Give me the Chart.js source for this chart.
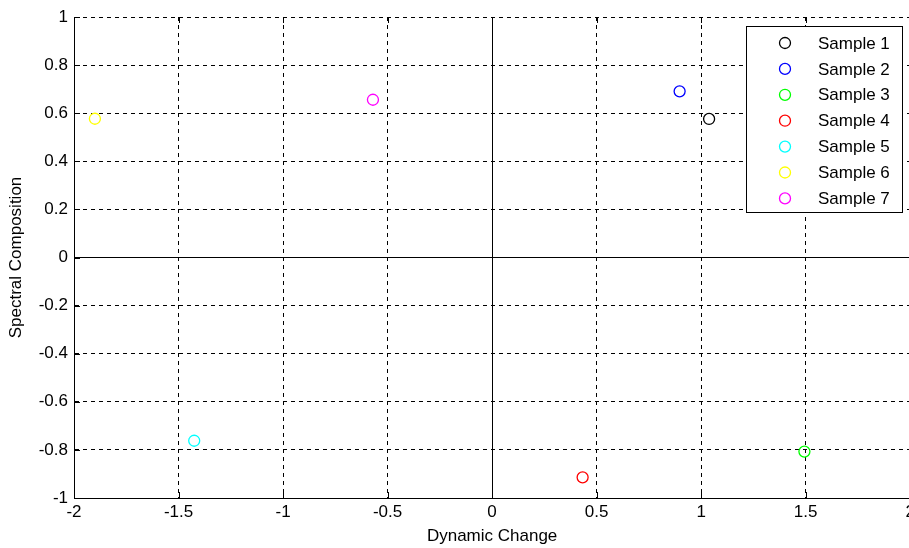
<!DOCTYPE html>
<html>
<head>
<meta charset="utf-8">
<script src="https://cdn.jsdelivr.net/npm/chart.js@4"></script>
<style>
    body { margin: 0; overflow: hidden; background: #fff; }
    #graficoArea { width: 917px; height: 548px; }
</style>
</head>
<body>
<div id="graficoArea"><canvas id="grafico" width="917" height="548"></canvas></div>
<script>
// Dados das amostras
const rotulos = ["Sample 1", "Sample 2", "Sample 3", "Sample 4", "Sample 5", "Sample 6", "Sample 7"]
const valoresX = [1.038, 0.897, 1.494, 0.433, -1.425, -1.90, -0.57]
const valoresY = [0.576, 0.691, -0.807, -0.914, -0.762, 0.577, 0.656]
const cores = ["#000000", "#0000ff", "#00ff00", "#ff0000", "#00ffff", "#ffff00", "#ff00ff"]

// Ticks dos eixos
const ticksX = [-2, -1.5, -1, -0.5, 0, 0.5, 1, 1.5, 2]
const ticksY = [-1, -0.8, -0.6, -0.4, -0.2, 0, 0.2, 0.4, 0.6, 0.8, 1]

const fonte = "'Liberation Sans', Arial, sans-serif"
Chart.defaults.font.family = fonte
Chart.defaults.font.size = 17
Chart.defaults.color = "#000"

// Monta um dataset por amostra
let datasets = []
for (let i = 0; i < rotulos.length; i++) {
    datasets.push({
        label: rotulos[i],
        data: [{ x: valoresX[i], y: valoresY[i] }],
        borderColor: cores[i],
        backgroundColor: "rgba(0,0,0,0)",
        pointRadius: 5.5,
        pointBorderWidth: 1.3,
        pointStyle: "circle"
    })
}

// Linhas do zero, marcas internas e legenda dentro da área do gráfico
const extras = {
    id: "extras",
    beforeDatasetsDraw(chart) {
        const ctx = chart.ctx
        const area = chart.chartArea
        const sx = chart.scales.x
        const sy = chart.scales.y
        ctx.save()
        ctx.strokeStyle = "#000"
        ctx.lineWidth = 1
        ctx.beginPath()
        // marcas internas
        ticksX.forEach(v => {
            let px = Math.round(sx.getPixelForValue(v)) + 0.5
            ctx.moveTo(px, area.bottom)
            ctx.lineTo(px, area.bottom - 6)
            ctx.moveTo(px, area.top)
            ctx.lineTo(px, area.top + 6)
        })
        ticksY.forEach(v => {
            let py = Math.round(sy.getPixelForValue(v)) + 0.5
            ctx.moveTo(area.left, py)
            ctx.lineTo(area.left + 6, py)
        })
        ctx.stroke()
        ctx.restore()
    },
    afterDraw(chart) {
        const ctx = chart.ctx
        const caixa = { x: 746.5, y: 26.5, w: 156, h: 186 }
        ctx.save()
        ctx.fillStyle = "#fff"
        ctx.fillRect(caixa.x, caixa.y, caixa.w, caixa.h)
        ctx.strokeStyle = "#000"
        ctx.lineWidth = 1
        ctx.strokeRect(caixa.x, caixa.y, caixa.w, caixa.h)
        ctx.font = "17px " + fonte
        ctx.textBaseline = "middle"
        ctx.textAlign = "left"
        chart.data.datasets.forEach((ds, i) => {
            let y = 43 + i * 25.9
            ctx.beginPath()
            ctx.arc(785, y, 5.5, 0, Math.PI * 2)
            ctx.lineWidth = 1.3
            ctx.strokeStyle = ds.borderColor
            ctx.stroke()
            ctx.fillStyle = "#000"
            ctx.fillText(ds.label, 818, y + 1)
        })
        ctx.restore()
    }
}

const config = {
    type: "scatter",
    data: { datasets: datasets },
    options: {
        responsive: false,
        animation: false,
        layout: { padding: { top: 17, left: 0, right: 0, bottom: 0 } },
        plugins: {
            legend: { display: false },
            tooltip: { enabled: false }
        },
        scales: {
            x: {
                type: "linear",
                min: -2,
                max: 2,
                afterBuildTicks: scale => { scale.ticks = ticksX.map(v => ({ value: v })) },
                afterFit: scale => {
                    scale.height = 50
                    scale.paddingRight = 0
                    scale.paddingLeft = 0
                },
                ticks: {
                    padding: 4,
                    maxRotation: 0,
                    callback: v => String(v)
                },
                grid: {
                    color: "#000",
                    lineWidth: 1,
                    drawTicks: false
                },
                border: {
                    color: "#000",
                    width: 1,
                    dash: ctx => (ctx.tick && ctx.tick.value === 0) ? [] : [4, 4]
                },
                title: {
                    display: true,
                    text: "Dynamic Change",
                    padding: { top: 0, bottom: 1 }
                }
            },
            y: {
                type: "linear",
                min: -1,
                max: 1,
                afterBuildTicks: scale => { scale.ticks = ticksY.map(v => ({ value: v })) },
                afterFit: scale => { scale.width = 74 },
                ticks: {
                    padding: 6,
                    callback: v => String(Number(v.toFixed(1)))
                },
                grid: {
                    color: "#000",
                    lineWidth: 1,
                    drawTicks: false
                },
                border: {
                    color: "#000",
                    width: 1,
                    dash: ctx => (ctx.tick && ctx.tick.value === 0) ? [] : [4, 4]
                },
                title: {
                    display: true,
                    text: "Spectral Composition",
                    padding: { top: 6, bottom: 0 }
                }
            }
        }
    },
    plugins: [extras]
}

// Renderiza o gráfico no canvas
const ctx = document.getElementById("grafico").getContext("2d")
new Chart(ctx, config)
</script>
</body>
</html>
